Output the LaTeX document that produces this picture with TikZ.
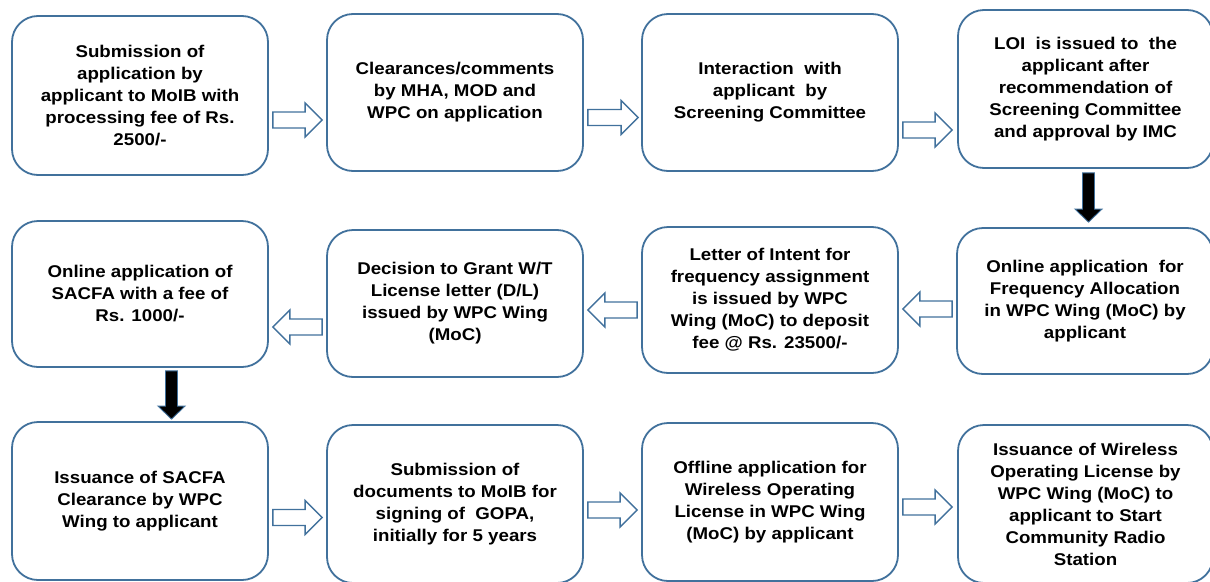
\documentclass[tikz,border=0pt]{standalone}
\usepackage{fontspec}
\setmainfont{Liberation Sans}[FakeStretch=1.1]
\usetikzlibrary{calc}
\definecolor{boxline}{HTML}{41719C}
\tikzset{
  box/.style={draw=boxline, line width=1.8pt, rounded corners=26pt, fill=white,
    inner sep=0pt, align=center, font=\fontsize{17}{22}\selectfont\bfseries},
  harrow/.style={draw=boxline, line width=1.4pt, fill=white, line join=miter},
  varrow/.style={draw=boxline, line width=0.9pt, fill=black, line join=miter},
}
\newcommand\blkright[2]{\draw[harrow] let \p1=(#1), \p2=(#2) in
  (\x1,\y1+8pt) -- (\x2-17pt,\y1+8pt) -- (\x2-17pt,\y1+17pt) -- (\x2,\y1)
  -- (\x2-17pt,\y1-17pt) -- (\x2-17pt,\y1-8pt) -- (\x1,\y1-8pt) -- cycle;}
\newcommand\blkleft[2]{\draw[harrow] let \p1=(#1), \p2=(#2) in
  (\x1,\y1+8pt) -- (\x2+17pt,\y1+8pt) -- (\x2+17pt,\y1+17pt) -- (\x2,\y1)
  -- (\x2+17pt,\y1-17pt) -- (\x2+17pt,\y1-8pt) -- (\x1,\y1-8pt) -- cycle;}
\newcommand\blkdown[2]{\draw[varrow] let \p1=(#1), \p2=(#2) in
  (\x1-6pt,\y1) -- (\x1-6pt,\y2+13pt) -- (\x1-13.5pt,\y2+13pt) -- (\x1,\y2)
  -- (\x1+13.5pt,\y2+13pt) -- (\x1+6pt,\y2+13pt) -- (\x1+6pt,\y1) -- cycle;}
\begin{document}
\begin{tikzpicture}[x=1pt,y=-1pt]
\useasboundingbox (0,0) rectangle (1210,581);
\clip (0,0) rectangle (1210,581);
% row 1
\node[box, minimum width=256pt, minimum height=159pt] (b1) at (140,95.5)
  {Submission of\\application by\\applicant to MoIB with\\processing fee of Rs.\\2500/-};
\node[box, minimum width=256pt, minimum height=157pt] (b2) at (455,92.5)
  {Clearances/comments\\by MHA, MOD and\\WPC on application};
\node[box, minimum width=256pt, minimum height=157pt] (b3) at (770,92.5)
  {Interaction\ \ with\\applicant\ \ by\\Screening Committee};
\node[box, minimum width=255pt, minimum height=158pt] (b4) at (1085.5,89)
  {LOI\ \ is issued to\ \ the\\applicant after\\recommendation of\\Screening Committee\\and approval by IMC};
% row 2
\node[box, minimum width=256pt, minimum height=146pt] (b5) at (140,294)
  {Online application of\\SACFA with a fee of\\Rs. 1000/-};
\node[box, minimum width=256pt, minimum height=147pt] (b6) at (455,303.5)
  {Decision to Grant W/T\\License letter (D/L)\\issued by WPC Wing\\(MoC)};
\node[box, minimum width=256pt, minimum height=146pt] (b7) at (770,300)
  {Letter of Intent for\\frequency assignment\\is issued by WPC\\Wing (MoC) to deposit\\fee @ Rs. 23500/-};
\node[box, minimum width=256pt, minimum height=146pt] (b8) at (1085,301)
  {Online application\ \ for\\Frequency Allocation\\in WPC Wing (MoC) by\\applicant};
% row 3
\node[box, minimum width=256pt, minimum height=158pt] (b9) at (140,501)
  {Issuance of SACFA\\Clearance by WPC\\Wing to applicant};
\node[box, minimum width=256pt, minimum height=158pt] (b10) at (455,504)
  {Submission of\\documents to MoIB for\\signing of\ \ GOPA,\\initially for 5 years};
\node[box, minimum width=256pt, minimum height=158pt] (b11) at (770,502)
  {Offline application for\\Wireless Operating\\License in WPC Wing\\(MoC) by applicant};
\node[box, minimum width=255pt, minimum height=158pt] (b12) at (1085.5,504)
  {Issuance of Wireless\\Operating License by\\WPC Wing (MoC) to\\applicant to Start\\Community Radio\\Station};
% arrow end points
\coordinate (a1s) at ($(b1.east)+(4,24.5)$);
\coordinate (a1e) at ($(b2.west)+(-4,27.5)$);
\coordinate (a2s) at ($(b2.east)+(4,25)$);
\coordinate (a2e) at ($(b3.west)+(-3,25)$);
\coordinate (a3s) at ($(b3.east)+(4,37.5)$);
\coordinate (a3e) at ($(b4.west)+(-5,41)$);
\coordinate (a4s) at ($(b8.west)+(-4,8)$);
\coordinate (a4e) at ($(b7.east)+(4,9)$);
\coordinate (a5s) at ($(b7.west)+(-4,10)$);
\coordinate (a5e) at ($(b6.east)+(4,6.5)$);
\coordinate (a6s) at ($(b6.west)+(-4,23.5)$);
\coordinate (a6e) at ($(b5.east)+(4,33)$);
\coordinate (a7s) at ($(b9.east)+(4,16.5)$);
\coordinate (a7e) at ($(b10.west)+(-4,13.5)$);
\coordinate (a8s) at ($(b10.east)+(4,6)$);
\coordinate (a8e) at ($(b11.west)+(-4,8)$);
\coordinate (a9s) at ($(b11.east)+(4,5)$);
\coordinate (a9e) at ($(b12.west)+(-5,3)$);
\coordinate (d1s) at ($(b4.south)+(3,4)$);
\coordinate (d1e) at ($(b8.north)+(3.5,-5)$);
\coordinate (d2s) at ($(b5.south)+(31.5,3)$);
\coordinate (d2e) at ($(b9.north)+(31.5,-2)$);
% arrows
\blkright{a1s}{a1e}
\blkright{a2s}{a2e}
\blkright{a3s}{a3e}
\blkleft{a4s}{a4e}
\blkleft{a5s}{a5e}
\blkleft{a6s}{a6e}
\blkright{a7s}{a7e}
\blkright{a8s}{a8e}
\blkright{a9s}{a9e}
\blkdown{d1s}{d1e}
\blkdown{d2s}{d2e}
\end{tikzpicture}
\end{document}
